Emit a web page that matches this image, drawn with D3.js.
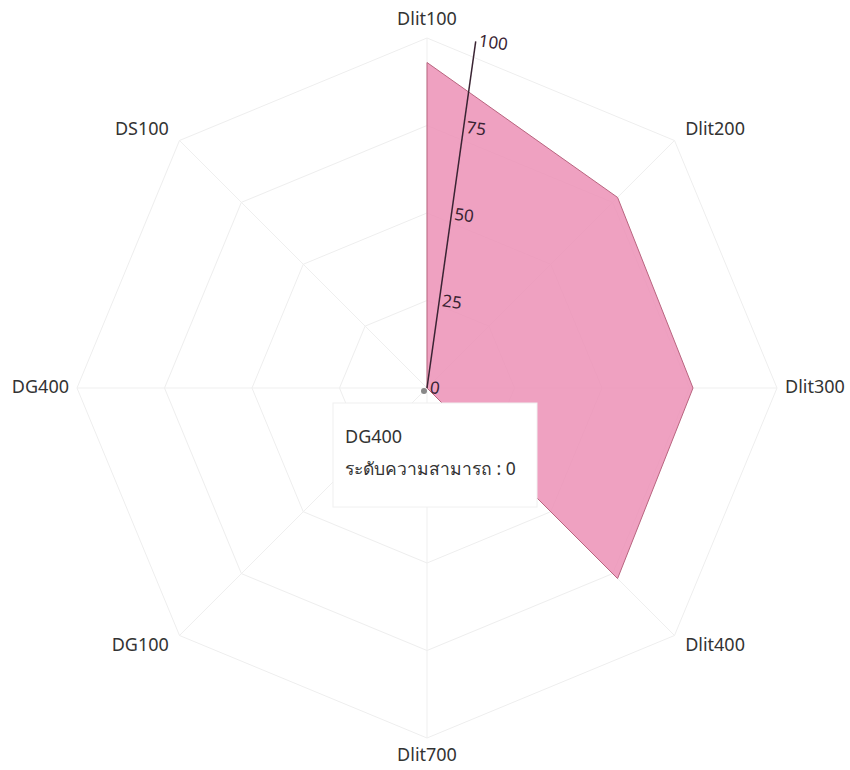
<!DOCTYPE html>
<html lang="th">
<head>
    <meta charset="UTF-8">
    <title>Radar chart</title>
    <script src="https://d3js.org/d3.v7.min.js"></script>
    <style>
        body { margin: 0; background: #fff; }
        text { font-family: "Noto Sans", "DejaVu Sans", sans-serif; fill: #333; }
    </style>
</head>
<body>
    <div id="chart"></div>

    <script>
        // data
        var axes = ["Dlit100", "Dlit200", "Dlit300", "Dlit400", "Dlit700", "DG100", "DG400", "DS100"];
        var levels = [93, 77, 76, 77, 0, 0, 0, 0];
        var ticks = [0, 25, 50, 75, 100];
        var tooltipAxis = "DG400";
        var tooltipLabel = "ระดับความสามารถ";

        var width = 850, height = 770;
        var cx = 427, cy = 388, R = 350;

        var svg = d3.select("#chart")
            .append("svg")
            .attr("width", width)
            .attr("height", height);

        var g = svg.append("g")
            .attr("transform", "translate(" + cx + "," + cy + ")");

        var r = d3.scaleLinear().domain([0, 100]).range([0, R]);
        var angle = d3.scalePoint()
            .domain(axes)
            .range([0, 2 * Math.PI * (axes.length - 1) / axes.length]);

        // rings
        ticks.slice(1).forEach(function(t) {
            g.append("path")
                .attr("d", d3.lineRadial()
                    .angle(function(d) { return angle(d); })
                    .radius(r(t))
                    .curve(d3.curveLinearClosed)(axes))
                .attr("fill", "none")
                .attr("stroke", "#eeeeee")
                .attr("stroke-width", 1);
        });

        // spokes
        g.selectAll(".spoke")
            .data(axes)
            .enter().append("line")
            .attr("class", "spoke")
            .attr("x1", 0).attr("y1", 0)
            .attr("x2", function(d) { return d3.pointRadial(angle(d), r(100))[0]; })
            .attr("y2", function(d) { return d3.pointRadial(angle(d), r(100))[1]; })
            .attr("stroke", "#efefef")
            .attr("stroke-width", 1);

        // data polygon
        var pts = axes.map(function(a, i) { return { axis: a, value: levels[i] }; });
        g.append("path")
            .datum(pts)
            .attr("d", d3.lineRadial()
                .angle(function(d) { return angle(d.axis); })
                .radius(function(d) { return r(d.value); })
                .curve(d3.curveLinearClosed))
            .attr("fill", "#ec90b6")
            .attr("fill-opacity", 0.85)
            .attr("stroke", "#b8647f")
            .attr("stroke-width", 1);

        // axis names
        g.selectAll(".lbl")
            .data(axes)
            .enter().append("text")
            .attr("class", "lbl")
            .each(function(d) {
                var a = angle(d);
                var pad = 8 + 10 * Math.abs(Math.cos(a));
                var p = d3.pointRadial(a, r(100) + pad);
                var s = Math.sin(a);
                d3.select(this)
                    .attr("x", p[0])
                    .attr("y", p[1])
                    .attr("text-anchor", Math.abs(s) < 0.01 ? "middle" : (s > 0 ? "start" : "end"))
                    .attr("dominant-baseline", "middle");
            })
            .style("font-size", "18px")
            .text(function(d) { return d; });

        // tilted value axis
        var va = g.append("g").attr("transform", "rotate(8)");
        va.append("line")
            .attr("x1", 0).attr("y1", 0)
            .attr("x2", 0).attr("y2", -r(100))
            .attr("stroke", "#3a2433")
            .attr("stroke-width", 1.5);
        va.selectAll(".tick")
            .data(ticks)
            .enter().append("text")
            .attr("class", "tick")
            .attr("x", 3)
            .attr("y", function(d) { return -r(d); })
            .attr("dominant-baseline", "middle")
            .style("font-size", "17px")
            .style("fill", "#3a2433")
            .text(function(d) { return d; });

        // hovered point
        var hp = d3.pointRadial(angle(tooltipAxis), r(levels[axes.indexOf(tooltipAxis)]));
        g.append("circle")
            .attr("cx", hp[0] - 3).attr("cy", hp[1] + 3)
            .attr("r", 3)
            .attr("fill", "#888");

        // tooltip
        var tip = svg.append("g")
            .attr("transform", "translate(" + (cx + hp[0] - 94) + "," + (cy + hp[1] + 15) + ")");
        tip.append("rect")
            .attr("width", 204).attr("height", 104)
            .attr("fill", "#fff")
            .attr("stroke", "#f0f0f0");
        tip.append("text")
            .attr("x", 12).attr("y", 40)
            .style("font-size", "18px")
            .text(tooltipAxis);
        tip.append("text")
            .attr("x", 12).attr("y", 72)
            .style("font-size", "17.5px")
            .text(tooltipLabel + " : " + levels[axes.indexOf(tooltipAxis)]);
    </script>
</body>
</html>
